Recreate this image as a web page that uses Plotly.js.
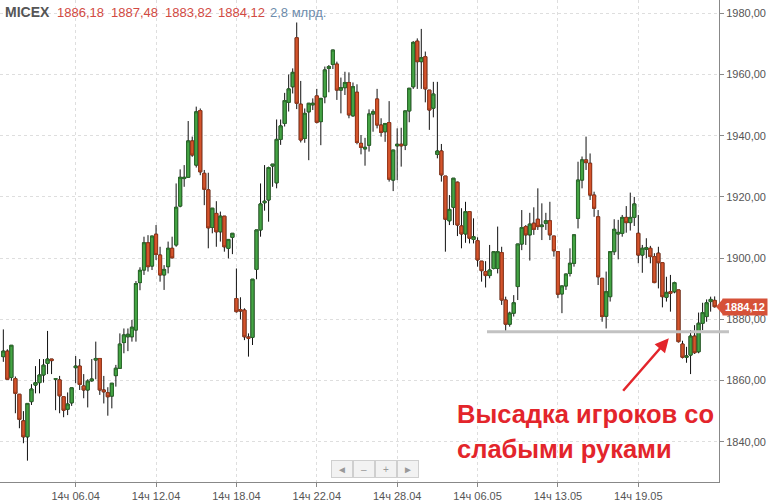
<!DOCTYPE html>
<html>
<head>
<meta charset="utf-8">
<script src="https://cdn.plot.ly/plotly-3.0.1.min.js"></script>
<style>html,body{margin:0;padding:0;background:#fff;}#chart{width:771px;height:501px;}</style>
</head>
<body>
<div id="chart"></div>
<script>
// MICEX 2-hour candles, 06.04 – 20.05
const openV = [1867.8,1869.6,1861.0,1860.6,1855.5,1846.8,1841.6,1853.1,1858.5,1859.3,1861.8,1865.6,1867.0,1860.4,1860.2,1854.7,1850.6,1852.7,1864.2,1864.7,
1858.2,1856.9,1859.9,1866.7,1867.2,1856.9,1856.0,1854.9,1861.6,1864.0,1872.4,1874.3,1874.3,1876.5,1892.0,1896.1,1905.0,1897.4,1907.8,1901.0,
1894.5,1897.2,1903.2,1904.3,1917.0,1926.0,1926.4,1938.3,1930.4,1948.2,1927.7,1922.3,1910.0,1914.6,1908.6,1913.7,1903.2,1906.8,1886.8,1883.2,
1883.0,1874.2,1874.1,1896.3,1909.2,1918.1,1919.0,1930.1,1924.6,1938.8,1944.0,1950.9,1956.0,1972.0,1950.3,1939.1,1947.8,1950.1,1953.0,1944.6,
1952.7,1962.0,1963.3,1963.4,1954.9,1955.7,1957.4,1946.5,1954.2,1937.5,1935.7,1936.9,1947.1,1952.0,1943.5,1941.3,1944.3,1925.5,1936.7,1937.2,
1936.9,1948.1,1956.0,1970.9,1964.2,1965.8,1954.9,1949.0,1933.9,1935.0,1926.8,1912.2,1916.6,1924.8,1910.5,1907.9,1915.2,1906.1,1905.7,1899.0,
1895.6,1894.3,1896.6,1896.6,1901.8,1886.3,1878.4,1882.0,1890.7,1904.6,1910.3,1907.6,1911.4,1912.7,1910.3,1911.4,1912.2,1907.2,1902.1,1888.3,
1890.9,1895.0,1898.3,1913.0,1925.5,1932.1,1931.0,1920.6,1913.5,1893.4,1881.0,1887.4,1902.1,1907.9,1908.1,1913.3,1911.6,1913.3,1908.1,1901.0,
1902.9,1903.2,1900.5,1901.6,1898.5,1887.2,1889.0,1889.0,1889.6,1871.9,1867.6,1868.3,1874.5,1869.4,1878.7,1880.9,1885.8,1886.18];
const highV = [1876.7,1870.2,1871.6,1861.3,1855.5,1850.0,1852.5,1858.8,1864.7,1867.0,1867.0,1876.2,1867.0,1860.8,1861.5,1854.7,1856.1,1857.6,1868.0,1867.0,
1862.1,1860.4,1867.0,1872.7,1867.2,1861.5,1857.8,1859.1,1865.1,1875.4,1877.0,1877.0,1879.8,1892.5,1897.0,1907.0,1907.5,1907.2,1910.8,1903.7,
1897.7,1905.4,1907.0,1924.4,1929.0,1930.4,1944.8,1939.7,1949.5,1948.9,1928.8,1927.9,1916.3,1918.6,1915.2,1913.7,1906.1,1908.1,1896.6,1887.2,
1883.6,1875.4,1893.1,1909.2,1924.4,1930.4,1929.9,1930.7,1945.3,1945.3,1954.0,1960.0,1962.0,1977.0,1957.9,1948.9,1950.6,1952.2,1955.3,1952.2,
1962.6,1963.1,1968.0,1964.2,1959.0,1960.9,1960.7,1957.4,1956.8,1940.2,1939.3,1948.6,1948.6,1955.3,1945.7,1944.0,1951.3,1935.3,1942.4,1942.6,
1948.1,1955.5,1970.9,1971.8,1974.9,1967.5,1954.9,1957.6,1957.6,1937.3,1926.8,1920.6,1926.1,1925.0,1916.3,1918.4,1915.2,1913.0,1906.8,1899.0,
1899.0,1904.3,1902.1,1910.3,1903.7,1887.4,1882.5,1887.9,1904.6,1915.7,1910.8,1914.8,1916.6,1922.8,1917.9,1914.8,1918.4,1907.2,1902.1,1890.9,
1894.8,1903.2,1907.6,1931.5,1933.2,1939.7,1934.2,1921.7,1915.7,1893.4,1895.6,1902.1,1912.7,1912.5,1914.1,1917.0,1921.4,1920.0,1914.1,1904.3,
1906.5,1904.0,1901.6,1903.7,1898.5,1893.9,1894.5,1892.3,1889.6,1873.0,1871.0,1876.5,1878.1,1882.2,1885.4,1886.5,1887.4,1887.48];
const lowV = [1866.1,1860.2,1859.9,1849.3,1844.4,1839.5,1833.8,1852.0,1855.8,1855.8,1859.3,1862.1,1862.1,1850.3,1849.3,1848.0,1848.7,1851.7,1859.1,1856.9,
1854.2,1851.2,1859.6,1860.4,1855.3,1852.5,1848.5,1850.9,1858.0,1864.0,1868.9,1869.6,1872.7,1872.7,1889.5,1894.5,1895.6,1896.1,1899.4,1892.3,
1889.6,1895.0,1899.9,1903.7,1916.6,1923.3,1926.4,1933.1,1929.6,1927.1,1917.3,1903.2,1908.1,1903.7,1905.4,1902.1,1899.9,1901.3,1882.2,1880.0,
1873.2,1867.8,1871.6,1893.1,1907.0,1915.5,1911.9,1923.3,1922.8,1937.0,1943.0,1947.9,1953.8,1948.7,1937.8,1937.7,1932.0,1948.4,1944.0,1936.9,
1950.6,1954.2,1961.8,1951.7,1947.3,1953.3,1945.7,1946.2,1937.2,1933.9,1930.2,1934.8,1941.3,1942.4,1939.7,1938.0,1925.0,1921.9,1925.5,1929.9,
1935.3,1944.4,1955.3,1955.3,1955.3,1950.9,1941.9,1946.0,1932.6,1925.0,1902.1,1910.8,1910.8,1907.2,1903.2,1905.0,1904.8,1904.8,1897.2,1892.3,
1890.4,1893.4,1896.3,1895.0,1884.7,1876.0,1877.6,1880.9,1886.3,1902.6,1904.3,1899.2,1907.6,1909.2,1905.9,1909.2,1905.9,1900.5,1886.9,1882.0,
1889.6,1894.0,1897.2,1909.7,1922.8,1928.8,1919.0,1913.5,1891.2,1879.2,1877.0,1885.8,1901.0,1899.6,1907.0,1908.3,1909.0,1910.5,1898.3,1895.2,
1899.9,1898.3,1891.8,1890.1,1883.9,1885.8,1882.5,1888.5,1872.4,1867.2,1865.8,1862.1,1868.7,1868.9,1876.5,1879.2,1882.5,1883.82];
const closeV = [1869.6,1860.4,1871.5,1855.8,1847.3,1841.6,1852.5,1857.2,1859.3,1861.8,1865.0,1867.0,1866.5,1860.6,1855.0,1850.3,1852.3,1857.6,1864.7,1858.7,
1856.9,1859.8,1860.5,1867.2,1856.9,1856.3,1854.7,1859.1,1864.0,1871.9,1874.9,1875.1,1877.4,1891.7,1896.0,1905.0,1897.2,1907.2,1901.2,1894.5,
1896.3,1903.2,1900.1,1916.6,1926.4,1926.4,1938.3,1933.7,1947.8,1928.2,1922.5,1909.9,1916.3,1908.6,1913.7,1903.7,1906.1,1908.1,1882.5,1882.7,
1874.3,1873.8,1893.1,1909.2,1917.7,1918.6,1929.6,1930.7,1938.8,1943.2,1951.5,1955.3,1960.7,1950.6,1938.6,1947.3,1950.6,1950.6,1944.4,1952.2,
1961.5,1962.6,1968.0,1954.9,1955.7,1957.4,1946.8,1956.0,1937.8,1936.2,1936.2,1947.1,1947.8,1943.5,1941.1,1944.0,1925.8,1935.3,1937.2,1936.7,
1948.1,1955.5,1970.5,1964.2,1965.5,1955.3,1948.4,1953.6,1935.0,1927.2,1912.7,1915.9,1926.1,1910.8,1907.9,1915.2,1906.5,1907.0,1899.4,1895.9,
1894.3,1896.1,1902.1,1902.1,1886.3,1878.4,1882.0,1885.4,1904.6,1910.0,1907.6,1911.1,1909.4,1910.3,1910.8,1912.2,1907.6,1902.4,1888.2,1890.9,
1894.8,1898.3,1907.6,1925.5,1932.1,1931.2,1920.6,1916.3,1893.9,1880.9,1889.0,1902.1,1909.4,1908.4,1913.3,1911.6,1913.3,1917.7,1901.0,1903.2,
1903.4,1900.5,1892.0,1898.5,1887.4,1888.8,1888.5,1892.0,1872.7,1867.6,1868.0,1874.5,1869.1,1878.7,1882.2,1885.4,1886.5,1884.12];
const tickIdx = [18, 38, 58, 78, 98, 118, 138, 158];
const tickText = ['14ч 06.04','14ч 12.04','14ч 18.04','14ч 22.04','14ч 28.04','14ч 06.05','14ч 13.05','14ч 19.05'];
const lastPrice = 1884.12;
const supportLevel = 1875.95;
const yTicks = [1840, 1860, 1880, 1900, 1920, 1940, 1960, 1980];

const idx = openV.map((_, i) => i);
const bodyHigh = openV.map((o, i) => Math.max(o, closeV[i]));
const bodyLow = openV.map((o, i) => Math.min(o, closeV[i]));

const plotW = 719, plotH = 482;
const px = p => p / plotW;
const py = p => (plotH - p) / plotH;
const yMin = 1826.83, yMax = 1984.35;

const wicks = {
  type: 'candlestick', x: idx, open: openV, high: highV, low: lowV, close: closeV,
  increasing: {line: {color: '#111', width: 1}, fillcolor: '#111'},
  decreasing: {line: {color: '#111', width: 1}, fillcolor: '#111'},
  whiskerwidth: 0, hoverinfo: 'skip', showlegend: false
};
const bodies = {
  type: 'candlestick', x: idx, open: openV, high: bodyHigh, low: bodyLow, close: closeV,
  increasing: {line: {color: '#2c6e2c', width: 1}, fillcolor: '#44a444'},
  decreasing: {line: {color: '#9e3a1c', width: 1}, fillcolor: '#d4542c'},
  whiskerwidth: 0, hoverinfo: 'skip', showlegend: false
};

const F = 'Liberation Sans, Arial, sans-serif';
const head = [
  {t: '<b>MICEX</b>', x: 3, c: '#555', s: 14},
  {t: '1886,18', x: 55, c: '#d24a43', s: 13},
  {t: '1887,48', x: 109, c: '#d24a43', s: 13},
  {t: '1883,82', x: 163, c: '#d24a43', s: 13},
  {t: '1884,12', x: 216, c: '#d24a43', s: 13},
  {t: '2,8 млрд.', x: 268, c: '#6d8bab', s: 13}
];
const annotations = head.map(h => ({
  xref: 'paper', yref: 'paper', x: px(h.x), y: py(12), xanchor: 'left', yanchor: 'middle',
  text: h.t, showarrow: false, font: {family: F, size: h.s, color: h.c}
}));
annotations.push({
  xref: 'paper', yref: 'paper', x: px(455), y: py(414), xanchor: 'left', yanchor: 'middle',
  text: '<b>Высадка игроков со</b>', showarrow: false, font: {family: F, size: 25.5, color: '#e3252b'}
});
annotations.push({
  xref: 'paper', yref: 'paper', x: px(455), y: py(449), xanchor: 'left', yanchor: 'middle',
  text: '<b>слабыми руками</b>', showarrow: false, font: {family: F, size: 25.5, color: '#e3252b'}
});
annotations.push({
  xref: 'x', yref: 'y', x: 165.6, y: 1873.8, ax: -47, ay: 54, text: '',
  showarrow: true, arrowhead: 2, arrowsize: 1.1, arrowwidth: 2.5, arrowcolor: '#e3252b', standoff: 0
});
annotations.push({
  xref: 'paper', yref: 'y', x: 1, y: lastPrice, xanchor: 'left', yanchor: 'middle', xshift: 3,
  text: '<b>1884,12</b>', showarrow: false, bgcolor: '#d65138', borderpad: 2,
  font: {family: F, size: 11, color: '#fff'}
});
const nav = ['◄', '–', '+', '►'];
nav.forEach((s, i) => annotations.push({
  xref: 'paper', yref: 'paper', x: px(342 + i * 22), y: py(469), xanchor: 'center', yanchor: 'middle',
  text: s, showarrow: false, width: 18, height: 14, bgcolor: '#f2f2f2', bordercolor: '#cfcfcf',
  borderwidth: 1, borderpad: 1, font: {family: F, size: 10, color: '#999'}
}));

const layout = {
  width: 771, height: 501,
  margin: {l: 0, r: 52, t: 0, b: 19},
  paper_bgcolor: '#fff', plot_bgcolor: '#fff',
  separators: ', ',
  boxgap: 0.1, boxgroupgap: 0.15,
  hovermode: false, showlegend: false,
  font: {family: F, size: 11, color: '#555'},
  xaxis: {
    type: 'linear', range: [-0.83, 178.08], rangeslider: {visible: false},
    tickmode: 'array', tickvals: tickIdx, ticktext: tickText,
    showgrid: true, gridcolor: '#dedede', griddash: 'dot',
    showline: true, linecolor: '#888', linewidth: 1,
    ticks: 'outside', ticklen: 4, tickcolor: '#888',
    tickfont: {family: F, size: 11, color: '#555'}, zeroline: false
  },
  yaxis: {
    side: 'right', range: [yMin, yMax], tickmode: 'array', tickvals: yTicks,
    tickformat: '.2f',
    showgrid: true, gridcolor: '#dedede', griddash: 'dot',
    showline: true, linecolor: '#888', linewidth: 1,
    ticks: 'outside', ticklen: 4, tickcolor: '#888',
    tickfont: {family: F, size: 11, color: '#555'}, zeroline: false
  },
  shapes: [
    {type: 'line', xref: 'paper', yref: 'paper', x0: px(487), x1: px(729),
     y0: (supportLevel - yMin) / (yMax - yMin), y1: (supportLevel - yMin) / (yMax - yMin),
     line: {color: '#c2c2c2', width: 3}, layer: 'above'},
    {type: 'path', xref: 'paper', xsizemode: 'pixel', xanchor: 1, yref: 'y', ysizemode: 'pixel', yanchor: lastPrice,
     path: 'M -3,0 L 4,-8 L 4,8 Z', fillcolor: '#d65138', line: {width: 0}, layer: 'above'}
  ],
  annotations: annotations
};

Plotly.newPlot('chart', [wicks, bodies], layout, {displayModeBar: false, staticPlot: true});
</script>
</body>
</html>
